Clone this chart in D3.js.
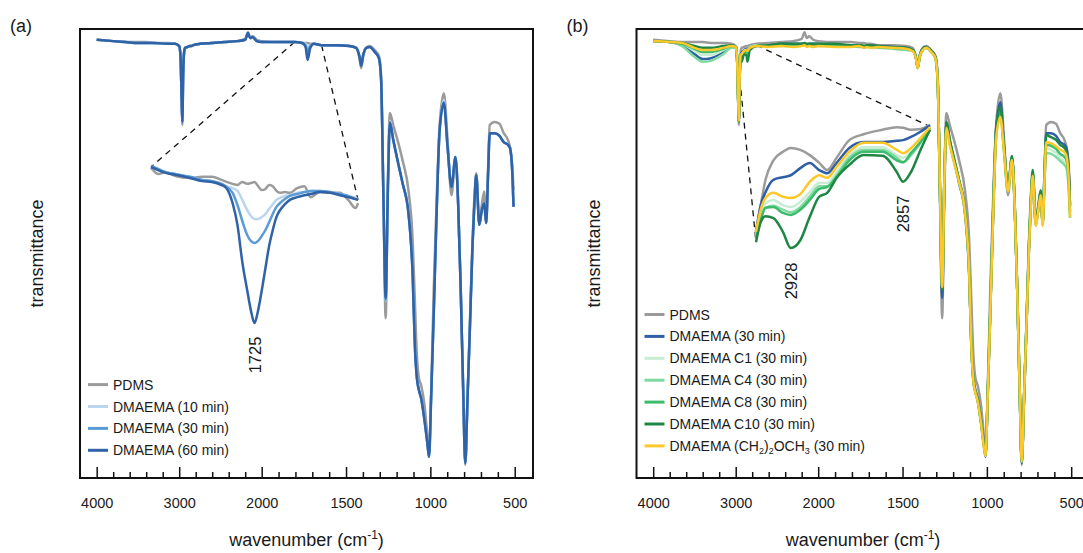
<!DOCTYPE html>
<html>
<head>
<meta charset="utf-8">
<script src="https://cdn.jsdelivr.net/npm/d3@7"></script>
<style>
body { margin: 0; background: #fff; }
text { font-family: "Liberation Sans", Arial, sans-serif; fill: #1a1a1a; }
</style>
</head>
<body>
<svg id="chart"></svg>
<script>
// wavenumber grid (cm-1) shared by the full spectra
var wn = [4000, 3800, 3650, 3500, 3400, 3300, 3150, 3050, 3000, 2985,
  2970, 2962, 2952, 2940, 2928, 2900, 2870, 2857, 2830, 2750,
  2600, 2450, 2300, 2200, 2166, 2140, 2110, 2060, 2000, 1900,
  1805, 1760, 1740, 1728, 1712, 1690, 1645, 1560, 1480, 1440,
  1420, 1410, 1398, 1380, 1360, 1330, 1305, 1292, 1278, 1265,
  1252, 1240, 1220, 1195, 1165, 1130, 1105, 1092, 1080, 1068,
  1055, 1035, 1018, 1008, 995, 980, 963, 945, 920, 898,
  875, 851, 835, 820, 806, 793, 780, 765, 750, 738,
  728, 710, 695, 681, 669, 658, 648, 620, 590, 565,
  540, 528, 515, 507];

var pdms = [97.6, 97.3, 97.1, 97.1, 97.1, 96.9, 96.9, 96.7, 96.2, 94.2,
  84.2, 78.6, 89.8, 94.9, 95.8, 96.0, 96.2, 96.2, 96.4, 96.7,
  96.9, 97.1, 97.3, 97.8, 99.3, 98.0, 98.4, 97.6, 97.3, 97.1,
  97.1, 96.9, 96.9, 96.9, 96.7, 96.7, 96.4, 96.4, 96.2, 95.8,
  93.5, 91.3, 94.2, 95.8, 96.2, 95.3, 94.0, 89.8, 61.9, 35.6,
  66.4, 81.3, 78.6, 75.3, 70.8, 64.1, 53.0, 39.6, 27.4, 22.3,
  20.7, 16.3, 9.6, 5.8, 19.6, 41.9, 61.9, 78.6, 85.7, 75.3,
  63.0, 70.8, 60.8, 41.9, 19.6, 2.9, 17.4, 35.2, 53.0, 63.0,
  67.9, 56.8, 60.8, 63.8, 56.8, 68.6, 78.6, 79.3, 78.9, 76.8,
  75.3, 73.7, 69.7, 64.1];

var dm10 = [97.6, 97.3, 97.1, 96.9, 96.9, 96.9, 96.7, 96.7, 96.2, 94.2,
  84.2, 79.3, 89.8, 94.9, 95.8, 96.0, 96.2, 96.2, 96.4, 96.7,
  96.9, 97.1, 97.3, 97.6, 99.1, 98.0, 98.2, 97.3, 97.1, 97.1,
  97.1, 96.9, 96.7, 95.8, 96.4, 96.7, 96.4, 96.4, 96.2, 95.8,
  93.8, 91.8, 94.2, 95.8, 96.0, 94.9, 93.5, 88.6, 61.9, 39.4,
  64.1, 79.5, 75.3, 70.8, 65.7, 59.0, 45.2, 29.6, 22.3, 19.6,
  17.8, 12.9, 7.8, 4.7, 18.5, 36.7, 59.0, 77.5, 84.2, 73.7,
  64.8, 71.5, 60.8, 41.9, 20.7, 3.3, 17.4, 34.1, 51.9, 61.9,
  67.5, 56.4, 59.7, 61.2, 56.8, 67.5, 76.8, 76.8, 76.2, 74.8,
  74.2, 73.5, 68.6, 60.4];

var dm30 = [97.6, 97.3, 97.1, 96.9, 96.9, 96.9, 96.7, 96.7, 96.2, 94.2,
  84.2, 79.3, 89.8, 94.9, 95.8, 96.0, 96.2, 96.2, 96.4, 96.7,
  96.9, 97.1, 97.3, 97.6, 99.1, 98.0, 98.2, 97.3, 97.1, 97.1,
  97.1, 96.9, 96.4, 94.9, 96.2, 96.7, 96.4, 96.4, 96.2, 95.8,
  93.8, 91.8, 94.2, 95.8, 96.0, 94.9, 93.5, 88.6, 61.9, 39.6,
  64.1, 79.3, 75.3, 70.8, 65.7, 59.0, 45.2, 29.6, 22.3, 19.6,
  17.8, 12.9, 7.8, 4.7, 18.5, 36.7, 59.0, 77.5, 83.7, 73.7,
  64.8, 71.5, 60.8, 41.9, 20.7, 3.3, 17.4, 34.1, 51.9, 61.9,
  67.5, 56.4, 59.7, 61.2, 56.8, 67.5, 76.8, 76.8, 76.2, 74.8,
  74.2, 73.5, 68.6, 60.4];

var dm60 = [97.6, 97.3, 97.1, 96.9, 96.9, 96.9, 96.7, 96.7, 96.2, 94.2,
  84.2, 79.3, 89.8, 94.9, 95.8, 96.0, 96.2, 96.2, 96.4, 96.7,
  96.9, 97.1, 97.3, 97.6, 99.1, 98.0, 98.2, 97.3, 97.1, 97.1,
  97.1, 96.9, 96.0, 93.1, 95.8, 96.7, 96.4, 96.4, 96.2, 95.8,
  93.8, 91.8, 94.2, 95.8, 96.0, 94.9, 93.5, 88.6, 61.9, 40.1,
  64.1, 79.1, 75.3, 70.8, 65.7, 59.0, 45.2, 29.6, 22.3, 19.6,
  17.8, 12.9, 7.8, 4.7, 18.5, 36.7, 59.0, 77.5, 83.5, 73.7,
  64.8, 71.5, 60.8, 41.9, 20.7, 3.3, 17.4, 34.1, 51.9, 61.9,
  67.5, 56.4, 59.7, 61.2, 56.8, 67.5, 76.8, 76.8, 76.2, 74.8,
  74.2, 73.5, 68.6, 60.4];

var dm30b = [97.3, 97.1, 96.4, 94.4, 93.3, 93.5, 94.9, 96.0, 95.8, 94.0,
  84.2, 79.3, 89.1, 94.2, 94.7, 95.3, 95.6, 95.6, 96.0, 96.4,
  96.4, 96.7, 96.7, 96.7, 96.9, 96.4, 96.7, 96.7, 96.7, 96.4,
  96.4, 96.4, 96.2, 95.8, 96.2, 96.2, 96.2, 96.0, 95.8, 95.3,
  93.5, 91.5, 94.0, 95.6, 96.0, 95.1, 93.8, 89.1, 64.1, 40.1,
  64.1, 79.3, 75.3, 70.8, 65.7, 59.0, 45.2, 29.6, 22.3, 19.6,
  17.8, 12.9, 7.8, 4.7, 18.5, 36.7, 59.0, 77.5, 83.7, 73.7,
  64.8, 71.5, 60.8, 41.9, 20.7, 3.3, 17.4, 34.1, 51.9, 61.9,
  67.5, 56.4, 59.7, 61.2, 56.8, 67.5, 76.8, 76.8, 76.2, 74.8,
  74.2, 73.5, 68.6, 60.4];

var c1 = [97.3, 97.1, 96.7, 95.1, 94.2, 94.2, 95.3, 96.2, 96.0, 94.2,
  84.2, 79.3, 89.1, 94.0, 94.2, 95.1, 95.3, 95.1, 96.0, 96.4,
  96.4, 96.2, 96.4, 96.4, 96.7, 96.2, 96.4, 96.4, 96.4, 96.2,
  96.2, 96.2, 96.2, 96.0, 96.2, 96.0, 96.0, 95.8, 95.6, 95.1,
  93.5, 91.3, 93.8, 95.3, 95.8, 94.9, 93.5, 88.6, 64.1, 42.5,
  66.4, 78.2, 74.6, 70.8, 66.4, 59.7, 46.3, 29.6, 21.8, 19.2,
  17.4, 12.4, 7.4, 5.1, 18.5, 36.7, 58.6, 76.4, 81.3, 73.1,
  64.1, 71.3, 60.8, 41.9, 20.7, 3.6, 17.4, 34.1, 51.9, 62.4,
  67.9, 56.8, 60.1, 63.8, 56.8, 66.8, 73.5, 73.1, 72.4, 71.3,
  70.4, 69.7, 65.3, 57.9];

var c4 = [97.3, 97.1, 96.2, 93.8, 92.7, 92.9, 94.4, 95.8, 95.8, 94.0,
  84.2, 79.3, 89.1, 94.0, 94.0, 94.9, 95.1, 94.9, 96.0, 96.2,
  96.2, 96.2, 96.4, 96.4, 96.4, 96.2, 96.4, 96.2, 96.2, 96.2,
  96.2, 96.0, 96.0, 95.8, 96.0, 96.0, 95.8, 95.6, 95.3, 95.1,
  93.5, 91.3, 93.8, 95.3, 95.8, 94.9, 93.5, 88.6, 64.1, 42.5,
  66.4, 78.2, 74.4, 70.4, 66.0, 59.2, 45.9, 29.2, 21.6, 19.0,
  17.2, 12.3, 7.1, 4.9, 18.3, 36.3, 58.1, 75.9, 80.8, 72.6,
  63.9, 70.8, 60.6, 41.7, 20.7, 3.6, 17.4, 33.9, 51.4, 61.9,
  67.5, 56.4, 59.7, 63.0, 56.4, 65.9, 72.4, 72.2, 71.5, 70.6,
  69.7, 69.0, 64.1, 57.9];

var c8 = [97.3, 97.1, 96.7, 95.6, 94.9, 94.9, 95.6, 96.2, 96.0, 94.2,
  84.2, 79.3, 89.1, 93.8, 93.8, 94.9, 94.9, 94.7, 95.8, 96.2,
  96.4, 96.4, 96.4, 96.4, 96.7, 96.4, 96.4, 96.4, 96.4, 96.4,
  96.2, 96.2, 96.2, 96.0, 96.2, 96.2, 96.0, 95.8, 95.6, 95.3,
  93.5, 91.3, 93.8, 95.3, 95.8, 94.9, 93.5, 88.6, 64.1, 42.3,
  66.4, 78.6, 74.8, 70.8, 66.2, 59.5, 46.1, 29.4, 21.8, 19.2,
  17.4, 12.4, 7.4, 5.1, 18.5, 36.7, 58.6, 76.6, 81.5, 73.1,
  64.1, 71.3, 60.8, 41.9, 20.7, 3.6, 17.4, 34.1, 51.9, 62.4,
  67.9, 56.8, 60.1, 63.5, 56.8, 67.3, 74.2, 74.0, 73.3, 72.2,
  71.5, 70.8, 66.4, 59.3];

var c10 = [97.3, 97.1, 96.9, 96.2, 95.8, 95.8, 96.2, 96.4, 96.0, 94.0,
  84.2, 79.3, 89.1, 93.1, 92.7, 94.4, 94.2, 92.7, 95.3, 96.2,
  96.4, 96.7, 96.7, 96.7, 96.9, 96.7, 96.7, 96.7, 96.7, 96.7,
  96.4, 96.4, 96.4, 96.2, 96.4, 96.4, 96.2, 96.0, 95.8, 95.3,
  93.5, 91.5, 94.0, 95.6, 96.0, 95.1, 93.8, 88.9, 64.1, 41.9,
  66.4, 79.3, 75.3, 71.3, 66.4, 59.7, 46.3, 29.6, 22.0, 19.4,
  17.6, 12.7, 7.6, 5.1, 18.7, 37.2, 59.3, 78.0, 82.6, 73.7,
  64.6, 71.7, 61.0, 41.9, 20.7, 3.6, 17.4, 34.3, 52.4, 63.3,
  68.6, 57.0, 60.6, 64.1, 57.0, 68.2, 76.4, 75.9, 75.3, 74.2,
  73.5, 72.6, 68.2, 60.8];

var ch2 = [97.3, 97.1, 96.9, 95.8, 95.3, 95.3, 95.8, 96.2, 96.0, 94.0,
  84.2, 79.5, 89.1, 94.2, 94.4, 95.1, 95.3, 95.1, 95.8, 96.2,
  96.0, 96.2, 96.0, 96.2, 96.4, 96.0, 96.2, 96.0, 96.2, 96.0,
  96.0, 96.2, 96.0, 95.8, 96.0, 95.8, 96.0, 95.8, 95.6, 95.1,
  93.3, 91.3, 93.8, 95.3, 95.8, 94.9, 93.5, 88.6, 64.1, 42.5,
  66.0, 78.0, 74.2, 70.4, 66.0, 59.2, 45.9, 29.2, 21.6, 19.0,
  17.2, 12.3, 6.9, 4.9, 18.3, 36.3, 57.9, 75.7, 80.4, 72.6,
  63.9, 70.8, 60.6, 41.7, 20.5, 3.6, 17.4, 33.9, 51.4, 61.9,
  67.3, 56.1, 59.7, 63.0, 56.1, 66.8, 74.8, 74.6, 73.9, 73.1,
  72.6, 71.7, 66.8, 58.1];

// inset (a): C=O region around 1725
var insAWn = [1810, 1804, 1798, 1790, 1778, 1768, 1760, 1752, 1748, 1743,
  1739, 1735, 1731, 1728, 1725, 1722, 1719, 1716, 1713, 1710,
  1707, 1704, 1700, 1696, 1690, 1684, 1679, 1671, 1663, 1655,
  1648, 1642, 1640];
var insAPdms = [97.07, 96.91, 96.96, 96.86, 96.81, 96.84, 96.84, 96.76, 96.71, 96.66,
  96.63, 96.71, 96.66, 96.68, 96.71, 96.60, 96.50, 96.53, 96.63, 96.60,
  96.48, 96.43, 96.45, 96.43, 96.55, 96.60, 96.32, 96.45, 96.43, 96.43,
  96.25, 96.04, 96.17];
var insA10 = [97.09, 97.01, 96.96, 96.91, 96.84, 96.76, 96.73, 96.66, 96.60, 96.55,
  96.48, 96.25, 95.99, 95.84, 95.76, 95.76, 95.81, 95.89, 96.02, 96.14,
  96.25, 96.30, 96.35, 96.37, 96.43, 96.45, 96.48, 96.48, 96.45, 96.40,
  96.35, 96.30, 96.27];
var insA30 = [97.12, 97.04, 96.96, 96.91, 96.84, 96.76, 96.73, 96.66, 96.58, 96.43,
  96.12, 95.71, 95.35, 95.20, 95.15, 95.20, 95.33, 95.48, 95.68, 95.89,
  96.07, 96.17, 96.27, 96.35, 96.40, 96.45, 96.48, 96.48, 96.45, 96.40,
  96.35, 96.27, 96.25];
var insA60 = [97.09, 97.01, 96.94, 96.89, 96.81, 96.73, 96.71, 96.63, 96.55, 96.17,
  95.61, 94.66, 93.94, 93.43, 93.10, 93.43, 93.94, 94.51, 95.07, 95.48,
  95.81, 95.99, 96.14, 96.25, 96.32, 96.37, 96.40, 96.45, 96.43, 96.37,
  96.32, 96.27, 96.25];

// inset (b): C-H stretch region
var insBWn = [2950, 2947, 2944, 2939, 2933, 2928, 2922, 2916, 2910, 2905,
  2899, 2891, 2882, 2870, 2861, 2857, 2852, 2846, 2840];
var insBPdms = [95.28, 95.69, 96.08, 96.38, 96.51, 96.57, 96.54, 96.46, 96.34, 96.23,
  96.42, 96.69, 96.78, 96.85, 96.89, 96.88, 96.85, 96.86, 96.92];
var insBD30 = [95.28, 95.69, 95.89, 96.08, 96.12, 96.15, 96.26, 96.34, 96.23, 96.18,
  96.34, 96.57, 96.66, 96.66, 96.68, 96.69, 96.74, 96.82, 96.92];
var insBC1 = [95.23, 95.54, 95.72, 95.77, 95.69, 95.66, 95.74, 95.89, 96.03, 96.03,
  96.20, 96.45, 96.58, 96.58, 96.46, 96.42, 96.51, 96.66, 96.88];
var insBC4 = [95.20, 95.49, 95.65, 95.68, 95.62, 95.58, 95.66, 95.82, 95.98, 95.98,
  96.15, 96.42, 96.54, 96.54, 96.42, 96.35, 96.46, 96.65, 96.88];
var insBC8 = [95.18, 95.46, 95.65, 95.66, 95.57, 95.54, 95.62, 95.77, 95.94, 95.97,
  96.12, 96.38, 96.51, 96.51, 96.38, 96.35, 96.49, 96.66, 96.88];
var insBC10 = [95.12, 95.43, 95.52, 95.49, 95.28, 95.03, 95.15, 95.51, 95.82, 95.88,
  96.11, 96.31, 96.46, 96.45, 96.20, 96.05, 96.20, 96.54, 96.85];
var insBCh2 = [95.28, 95.62, 95.80, 95.88, 95.82, 95.80, 95.86, 96.05, 96.15, 96.11,
  96.28, 96.51, 96.65, 96.65, 96.54, 96.49, 96.57, 96.72, 96.89];

var majorTicks = [4000, 3000, 2000, 1500, 1000, 500];
var minorTicks = [3800, 3600, 3400, 3200, 2800, 2600, 2400, 2200,
  1900, 1800, 1700, 1600, 1400, 1300, 1200, 1100, 900, 800, 700, 600];

var namesA = ["PDMS", "DMAEMA (10 min)", "DMAEMA (30 min)", "DMAEMA (60 min)"];
var colorsA = ["#9b9b9b", "#bcd5ee", "#5b9bd5", "#2f62a7"];
var namesB = ["PDMS", "DMAEMA (30 min)", "DMAEMA C1 (30 min)", "DMAEMA C4 (30 min)",
  "DMAEMA C8 (30 min)", "DMAEMA C10 (30 min)", "DMAEMA (CH2)2OCH3 (30 min)"];
var colorsB = ["#9b9b9b", "#2f5fa5", "#c9edd3", "#80d9a1", "#3cbc6b", "#1e8744", "#fdc82a"];

var W = 1083, H = 553;
var svg = d3.select("#chart").attr("width", W).attr("height", H);
svg.append("rect").attr("width", W).attr("height", H).attr("fill", "#fff");

var frameTop = 29, frameBottom = 478, frameW = 453;

// IR style axis: 4000-2000 compressed, 2000-500 expanded
var x = d3.scaleLinear().domain([4000, 2000, 500]).range([16.7, 181.7, 434.7]);
var y = d3.scaleLinear().domain([0, 100]).range([frameBottom, frameTop]);

function zip(ws, vs) {
  return ws.map(function(w, i) { return [w, vs[i]]; });
}

function lineFor(xs, ys) {
  return d3.line()
    .x(function(d) { return xs(d[0]); })
    .y(function(d) { return ys(d[1]); })
    .curve(d3.curveMonotoneX);
}

function drawPanel(left, letter, series, inset, links, legendTop, names, colors, notes) {
  var g = svg.append("g").attr("transform", "translate(" + left + ",0)");

  g.append("text").attr("x", -70).attr("y", 32).attr("font-size", 18).text("(" + letter + ")");

  g.append("text")
    .attr("transform", "translate(-37," + (frameTop + frameBottom) / 2 + ") rotate(-90)")
    .attr("text-anchor", "middle").attr("font-size", 18)
    .text("transmittance");

  var xt = g.append("text")
    .attr("x", frameW / 2).attr("y", 546)
    .attr("text-anchor", "middle").attr("font-size", 18);
  xt.append("tspan").text("wavenumber (cm");
  xt.append("tspan").attr("font-size", 12).attr("dy", -7).text("-1");
  xt.append("tspan").attr("dy", 7).text(")");

  // dashed zoom guides
  links.forEach(function(l) {
    g.append("line")
      .attr("x1", x(l[0])).attr("y1", y(l[1]))
      .attr("x2", inset.x(l[2])).attr("y2", inset.y(l[3]))
      .attr("stroke", "#111").attr("stroke-width", 1.3)
      .attr("stroke-dasharray", "6,5");
  });

  var main = lineFor(x, y);
  series.forEach(function(s, i) {
    g.append("path")
      .attr("d", main(zip(wn, s)))
      .attr("fill", "none").attr("stroke", colors[i])
      .attr("stroke-width", 2.5).attr("stroke-linejoin", "round");
  });

  var zl = lineFor(inset.x, inset.y);
  inset.series.forEach(function(s, i) {
    g.append("path")
      .attr("d", zl(zip(inset.wn, s)))
      .attr("fill", "none").attr("stroke", colors[i])
      .attr("stroke-width", 2.5).attr("stroke-linejoin", "round");
  });

  notes.forEach(function(n) {
    g.append("text")
      .attr("transform", "translate(" + (inset.x(n) + 6) + "," + n.pos + ") rotate(-90)")
      .attr("text-anchor", "middle").attr("font-size", 16.5)
      .text(n);
  });

  // legend
  names.forEach(function(name, i) {
    var ly = legendTop + i * 21.9;
    g.append("line").attr("x1", 8).attr("x2", 28).attr("y1", ly).attr("y2", ly)
      .attr("stroke", colors[i]).attr("stroke-width", 3);
    var t = g.append("text").attr("x", 33).attr("y", ly + 5).attr("font-size", 14);
    var m = name.match(/^(.*)\(CH2\)2OCH3(.*)$/);
    if (m) {
      t.append("tspan").text(m[1] + "(CH");
      t.append("tspan").attr("font-size", 9).attr("dy", 3).text("2");
      t.append("tspan").attr("dy", -3).text(")");
      t.append("tspan").attr("font-size", 9).attr("dy", 3).text("2");
      t.append("tspan").attr("dy", -3).text("OCH");
      t.append("tspan").attr("font-size", 9).attr("dy", 3).text("3");
      t.append("tspan").attr("dy", -3).text(m[2]);
    } else {
      t.text(name);
    }
  });

  // axes
  var ax = g.append("g").attr("transform", "translate(0," + frameBottom + ")")
    .call(d3.axisBottom(x).tickValues(majorTicks).tickSize(-11).tickPadding(20)
      .tickFormat(d3.format("d")));
  ax.select(".domain").remove();
  ax.selectAll("line").attr("stroke", "#111").attr("stroke-width", 1.5);
  ax.selectAll("text").attr("font-size", 14.5);

  var mx = g.append("g").attr("transform", "translate(0," + frameBottom + ")")
    .call(d3.axisBottom(x).tickValues(minorTicks).tickSize(-6).tickFormat(""));
  mx.select(".domain").remove();
  mx.selectAll("line").attr("stroke", "#111").attr("stroke-width", 1.5);

  g.append("rect").attr("x", 0).attr("y", frameTop)
    .attr("width", frameW).attr("height", frameBottom - frameTop)
    .attr("fill", "none").attr("stroke", "#111").attr("stroke-width", 2);
}

var insetA = {
  wn: insAWn,
  series: [insAPdms, insA10, insA30, insA60],
  x: d3.scaleLinear().domain([1810, 1640]).range([71, 278]),
  y: d3.scaleLinear().domain([93, 97.5]).range([327, 151])
};
var insetB = {
  wn: insBWn,
  series: [insBPdms, insBD30, insBC1, insBC4, insBC8, insBC10, insBCh2],
  x: d3.scaleLinear().domain([2950, 2840]).range([119.5, 293.5]),
  y: d3.scaleLinear().domain([95, 97]).range([250, 120])
};

// [main wavenumber, main value, inset wavenumber, inset value]
var linksA = [[1805, 97.1, 1810, 97.09], [1645, 96.4, 1640, 96.25]];
var linksB = [[2990, 96.2, 2950, 95.12], [2750, 96.4, 2840, 96.9]];

var notesA = [1725];
notesA[0] = Object.assign(new Number(1725), { pos: 355 });
var notesB = [Object.assign(new Number(2928), { pos: 281 }), Object.assign(new Number(2857), { pos: 214 })];

drawPanel(80, "a", [pdms, dm10, dm30, dm60], insetA, linksA, 384.6, namesA, colorsA, notesA);
drawPanel(636.5, "b", [pdms, dm30b, c1, c4, c8, c10, ch2], insetB, linksB, 314.5, namesB, colorsB, notesB);
</script>
</body>
</html>
